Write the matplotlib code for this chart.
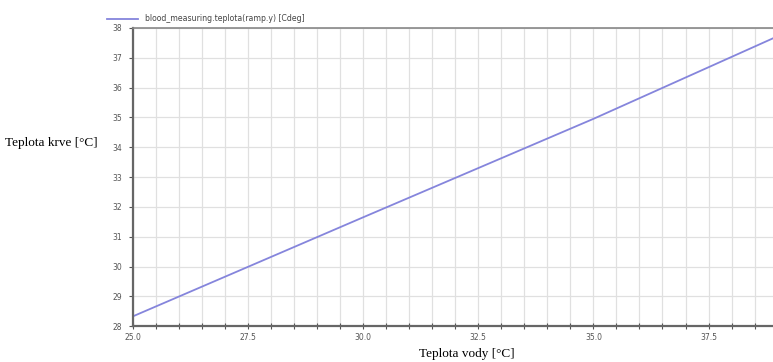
import matplotlib
matplotlib.use("Agg")
import matplotlib.pyplot as plt
import numpy as np

# hodnoty
teplota_vody = [25.0, 30.0, 35.0, 38.9, 40.0]
teplota_krve = [28.33, 31.65, 34.95, 37.65, 38.38]
x_ticks = [25.0, 27.5, 30.0, 32.5, 35.0, 37.5]
y_ticks = [28, 29, 30, 31, 32, 33, 34, 35, 36, 37, 38]

fig = plt.figure(figsize=(7.73, 3.62), dpi=100)
ax = fig.add_axes([0.172, 0.099, 0.828, 0.824])

ax.plot(teplota_vody, teplota_krve, color="#8585dc", linewidth=1.3,
        label="blood_measuring.teplota(ramp.y) [Cdeg]")

ax.set_xlim(25.0, 38.9)
ax.set_ylim(28, 38)
ax.set_xticks(x_ticks)
ax.set_xticklabels(["%.1f" % v for v in x_ticks])
ax.set_xticks(np.arange(25.0, 39.0, 0.5), minor=True)
ax.set_yticks(y_ticks)

ax.grid(True, which="both", axis="x", color="#e0e0e0", linewidth=0.9)
ax.grid(True, which="major", axis="y", color="#e0e0e0", linewidth=0.9)
ax.set_axisbelow(True)

ax.tick_params(axis="both", which="both", labelsize=5.5, labelcolor="#555555",
               color="#555555", direction="inout", length=4, width=0.8, pad=3)
ax.tick_params(axis="y", direction="out", length=3, pad=5)

for side in ["left", "bottom"]:
    ax.spines[side].set_color("#666666")
    ax.spines[side].set_linewidth(1.6)
ax.spines["top"].set_color("#888888")
ax.spines["top"].set_linewidth(1.2)
ax.spines["right"].set_visible(False)

ax.legend(loc="lower left", bbox_to_anchor=(-0.045, 1.005), frameon=False,
          fontsize=5.6, handlelength=4, borderaxespad=0, labelcolor="#444444")

fig.text(0.006, 1 - 143 / 362, "Teplota krve [°C]", family="Liberation Serif",
         fontsize=9.5, va="center", ha="left")
fig.text(0.604, 0.022, "Teplota vody [°C]", family="Liberation Serif",
         fontsize=9.5, va="center", ha="center")

plt.savefig("out.png", dpi=100)
plt.close()
